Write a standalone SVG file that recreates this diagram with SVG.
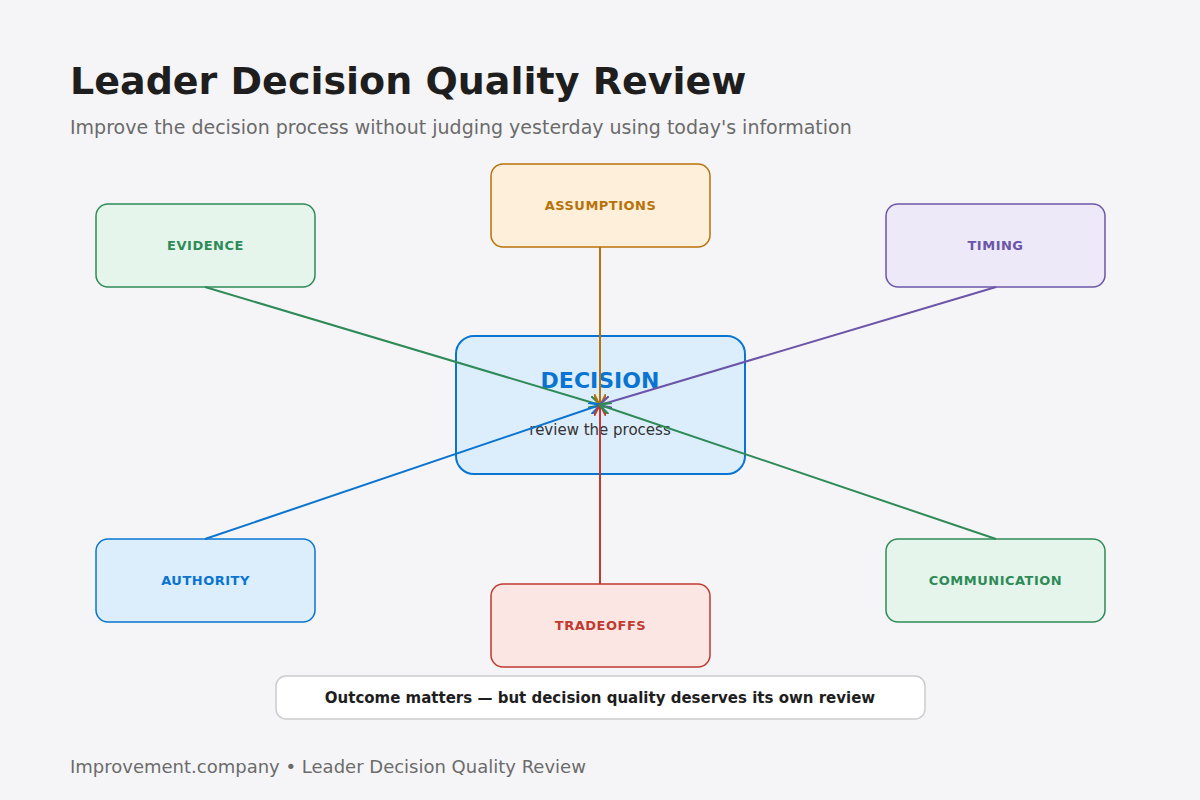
<svg xmlns="http://www.w3.org/2000/svg" width="1200" height="800" viewBox="0 0 1200 800">
<style>
text{font-family:"DejaVu Sans",sans-serif}
.lbl{font-size:13px;font-weight:bold;text-anchor:middle;letter-spacing:0.5px}
.n{stroke-width:1.5}
.c{fill:none;stroke-width:2}
</style>
<defs>
<marker id="mg" viewBox="0 0 10 10" refX="9" refY="5" markerWidth="6" markerHeight="6" orient="auto"><path d="M0,0L10,5L0,10" fill="none" stroke="#2e8b57" stroke-width="2"/></marker>
<marker id="mo" viewBox="0 0 10 10" refX="9" refY="5" markerWidth="6" markerHeight="6" orient="auto"><path d="M0,0L10,5L0,10" fill="none" stroke="#b8720a" stroke-width="2"/></marker>
<marker id="mp" viewBox="0 0 10 10" refX="9" refY="5" markerWidth="6" markerHeight="6" orient="auto"><path d="M0,0L10,5L0,10" fill="none" stroke="#6b55a8" stroke-width="2"/></marker>
<marker id="mb" viewBox="0 0 10 10" refX="9" refY="5" markerWidth="6" markerHeight="6" orient="auto"><path d="M0,0L10,5L0,10" fill="none" stroke="#0a74d0" stroke-width="2"/></marker>
<marker id="mr" viewBox="0 0 10 10" refX="9" refY="5" markerWidth="6" markerHeight="6" orient="auto"><path d="M0,0L10,5L0,10" fill="none" stroke="#c03a30" stroke-width="2"/></marker>
</defs>
<rect width="1200" height="800" fill="#f5f5f7"/>
<text x="70" y="94" font-size="38" font-weight="bold" fill="#1e1e1e">Leader Decision Quality Review</text>
<text x="70" y="134" font-size="19" fill="#6b6b6b">Improve the decision process without judging yesterday using today's information</text>
<g id="decision"><rect x="456" y="336" width="289" height="138" rx="18" fill="#dcedfc" stroke="#0a74d0" stroke-width="2"/>
<text x="600" y="388" font-size="22" font-weight="bold" fill="#0a74d0" text-anchor="middle">DECISION</text>
<text x="600" y="435" font-size="15" fill="#333" text-anchor="middle">review the process</text></g>
<g id="evidence"><rect class="n" x="96" y="204" width="219" height="83" rx="12" fill="#e6f5ec" stroke="#2e8b57"/><text class="lbl" x="205.5" y="250" fill="#2e8b57">EVIDENCE</text></g>
<g id="assumptions"><rect class="n" x="491" y="164" width="219" height="83" rx="12" fill="#fdefd9" stroke="#b8720a"/><text class="lbl" x="600.5" y="210" fill="#b8720a">ASSUMPTIONS</text></g>
<g id="timing"><rect class="n" x="886" y="204" width="219" height="83" rx="12" fill="#eee9f9" stroke="#6b55a8"/><text class="lbl" x="995.5" y="250" fill="#6b55a8">TIMING</text></g>
<g id="authority"><rect class="n" x="96" y="539" width="219" height="83" rx="12" fill="#dcedfc" stroke="#0a74d0"/><text class="lbl" x="205.5" y="585" fill="#0a74d0">AUTHORITY</text></g>
<g id="tradeoffs"><rect class="n" x="491" y="584" width="219" height="83" rx="12" fill="#fce6e4" stroke="#c03a30"/><text class="lbl" x="600.5" y="630" fill="#c03a30">TRADEOFFS</text></g>
<g id="communication"><rect class="n" x="886" y="539" width="219" height="83" rx="12" fill="#e6f5ec" stroke="#2e8b57"/><text class="lbl" x="995.5" y="585" fill="#2e8b57">COMMUNICATION</text></g>
<g id="connectors">
<line class="c" x1="205" y1="287" x2="600" y2="405" stroke="#2e8b57" marker-end="url(#mg)"/>
<line class="c" x1="600" y1="247" x2="600" y2="405" stroke="#b8720a" marker-end="url(#mo)"/>
<line class="c" x1="996" y1="287" x2="600" y2="405" stroke="#6b55a8" marker-end="url(#mp)"/>
<line class="c" x1="205" y1="539" x2="600" y2="405" stroke="#0a74d0" marker-end="url(#mb)"/>
<line class="c" x1="600" y1="584" x2="600" y2="405" stroke="#c03a30" marker-end="url(#mr)"/>
<line class="c" x1="996" y1="539" x2="600" y2="405" stroke="#2e8b57" marker-end="url(#mg)"/>
</g>
<g id="note"><rect x="276" y="676" width="649" height="43" rx="10" fill="#fff" stroke="#cccccc" stroke-width="1.5"/>
<text x="600" y="703" font-size="15" font-weight="bold" fill="#1e1e1e" text-anchor="middle">Outcome matters — but decision quality deserves its own review</text></g>
<text x="70" y="773" font-size="18" fill="#6b6b6b">Improvement.company • Leader Decision Quality Review</text>
</svg>
